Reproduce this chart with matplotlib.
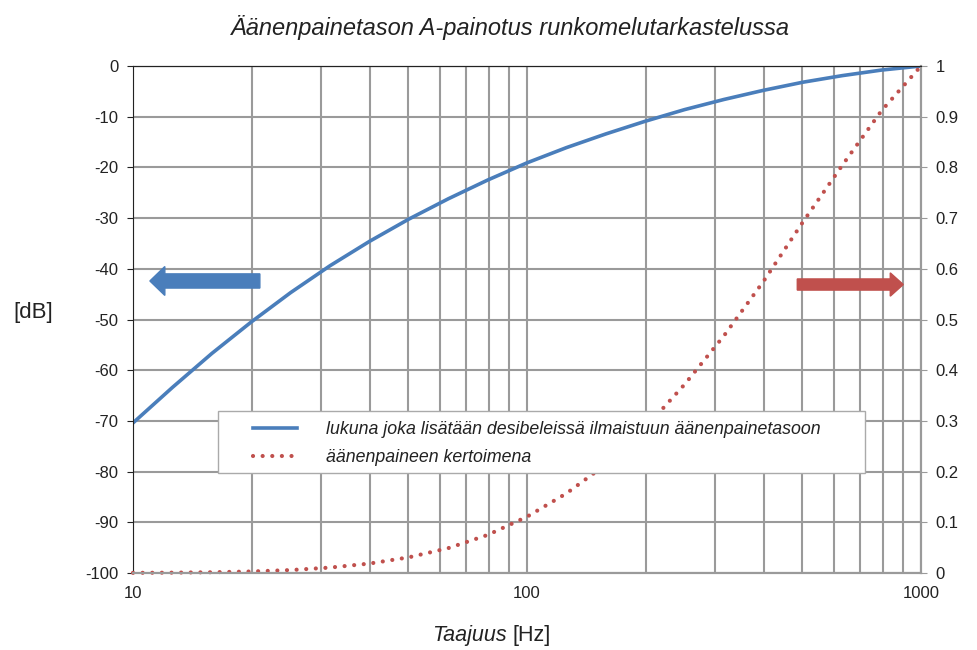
import matplotlib
matplotlib.use("Agg")
import matplotlib.pyplot as plt
from matplotlib.patches import FancyArrow, Rectangle
from matplotlib.ticker import FixedLocator, FixedFormatter, NullFormatter

plt.rcParams['font.family'] = ['Liberation Sans', 'DejaVu Sans']
plt.rcParams['axes.unicode_minus'] = False

# A-weighting read at third-octave frequencies
freq = [10, 12.59, 15.85, 19.95, 25.12, 31.62, 39.81, 50.12, 63.10, 79.43, 100,
        125.9, 158.5, 199.5, 251.2, 316.2, 398.1, 501.2, 631.0, 794.3, 1000]
a_db = [-70.4, -63.4, -56.7, -50.5, -44.7, -39.4, -34.6, -30.2, -26.2, -22.5,
        -19.1, -16.1, -13.4, -10.9, -8.6, -6.6, -4.8, -3.2, -1.9, -0.8, 0.0]
a_factor = [0.0003, 0.0007, 0.0015, 0.003, 0.0058, 0.0107, 0.0186, 0.0309,
            0.049, 0.075, 0.111, 0.157, 0.214, 0.286, 0.372, 0.468, 0.575,
            0.692, 0.804, 0.912, 1.0]

label_db = 'lukuna joka lisätään desibeleissä ilmaistuun äänenpainetasoon'
label_factor = 'äänenpaineen kertoimena'
right_labels = ['0', '0.1', '0.2', '0.3', '0.4', '0.5', '0.6', '0.7', '0.8', '0.9', '1']

blue = '#4a7ebb'
red = '#c0504d'
gridc = '#9a9a9a'
txt = '#222222'

fig = plt.figure(figsize=(9.77, 6.5), dpi=100)
ax1 = fig.add_axes([133/977, 1-573/650, 788/977, 507/650])
ax2 = ax1.twinx()

ax1.set_xscale('log')
ax1.set_xlim(10, 1000)
ax1.set_ylim(-100, 0)
ax2.set_ylim(0, 1)

ax1.set_yticks(range(-100, 1, 10))
ax2.set_yticks([i/10 for i in range(11)])
ax2.set_yticklabels(right_labels)
ax1.xaxis.set_major_locator(FixedLocator([10, 100, 1000]))
ax1.xaxis.set_major_formatter(FixedFormatter(['10', '100', '1000']))
minors = [m * d for d in (10, 100) for m in range(2, 10)]
ax1.xaxis.set_minor_locator(FixedLocator(minors))
ax1.xaxis.set_minor_formatter(NullFormatter())

ax1.grid(True, which='both', axis='x', color=gridc, lw=1.5)
ax1.grid(True, which='major', axis='y', color=gridc, lw=1.5)
ax1.set_axisbelow(True)

ax1.spines['left'].set_color(txt)
for a in (ax1, ax2):
    a.spines['top'].set_color(txt)
    a.spines['bottom'].set_color(gridc)
    a.spines['bottom'].set_linewidth(1.5)
    a.spines['right'].set_color(gridc)
    a.spines['right'].set_linewidth(1.5)
ax2.spines['left'].set_visible(False)

ax1.tick_params(axis='y', labelsize=12, length=4.5, color=txt, pad=6, labelcolor=txt)
ax2.tick_params(axis='y', labelsize=12, length=4.5, color=gridc, pad=6, labelcolor=txt)
ax1.tick_params(axis='x', which='both', length=0, labelsize=12, pad=9, labelcolor=txt)

l1, = ax1.plot(freq, a_db, color=blue, lw=2.6, label=label_db)
l2, = ax2.plot(freq, a_factor, color=red, lw=3.0, ls=(0, (0.01, 2.3)),
               dash_capstyle='round', label=label_factor, clip_on=False)

# legend frame and entries
ax2.add_patch(Rectangle((0.1079, 0.1972), 0.8211, 0.1223, transform=ax2.transAxes,
                        facecolor='white', edgecolor='#aaaaaa', lw=1.0, zorder=6))
leg = ax2.legend(handles=[l1, l2], loc='center left', bbox_to_anchor=(0.152, 0.2554),
                 frameon=False, prop={'style': 'italic', 'size': 12.8},
                 handlelength=2.5, handletextpad=1.6, borderpad=0,
                 labelspacing=0.6, borderaxespad=0)
leg.set_zorder(7)
for t in leg.get_texts():
    t.set_color(txt)

# direction arrows
ax2.add_patch(FancyArrow(0.161, 0.576, -0.1396, 0, width=0.028, head_width=0.057,
                         head_length=0.019, length_includes_head=True,
                         color=blue, transform=ax2.transAxes, zorder=5))
ax2.add_patch(FancyArrow(0.843, 0.569, 0.1345, 0, width=0.022, head_width=0.046,
                         head_length=0.0165, length_includes_head=True,
                         color=red, transform=ax2.transAxes, zorder=5))

fig.text(510/977, 1-27/650, 'Äänenpainetason A-painotus runkomelutarkastelussa',
         ha='center', va='center', fontsize=17, style='italic', color=txt)
fig.text(33/977, 1-313/650, '[dB]', ha='center', va='center', fontsize=16, color=txt)
fig.text(507/977, 1-635/650, 'Taajuus', ha='right', va='center', fontsize=15.5,
         style='italic', color=txt)
fig.text(512/977, 1-635/650, '[Hz]', ha='left', va='center', fontsize=15.5, color=txt)

fig.savefig('out.png', dpi=100)
